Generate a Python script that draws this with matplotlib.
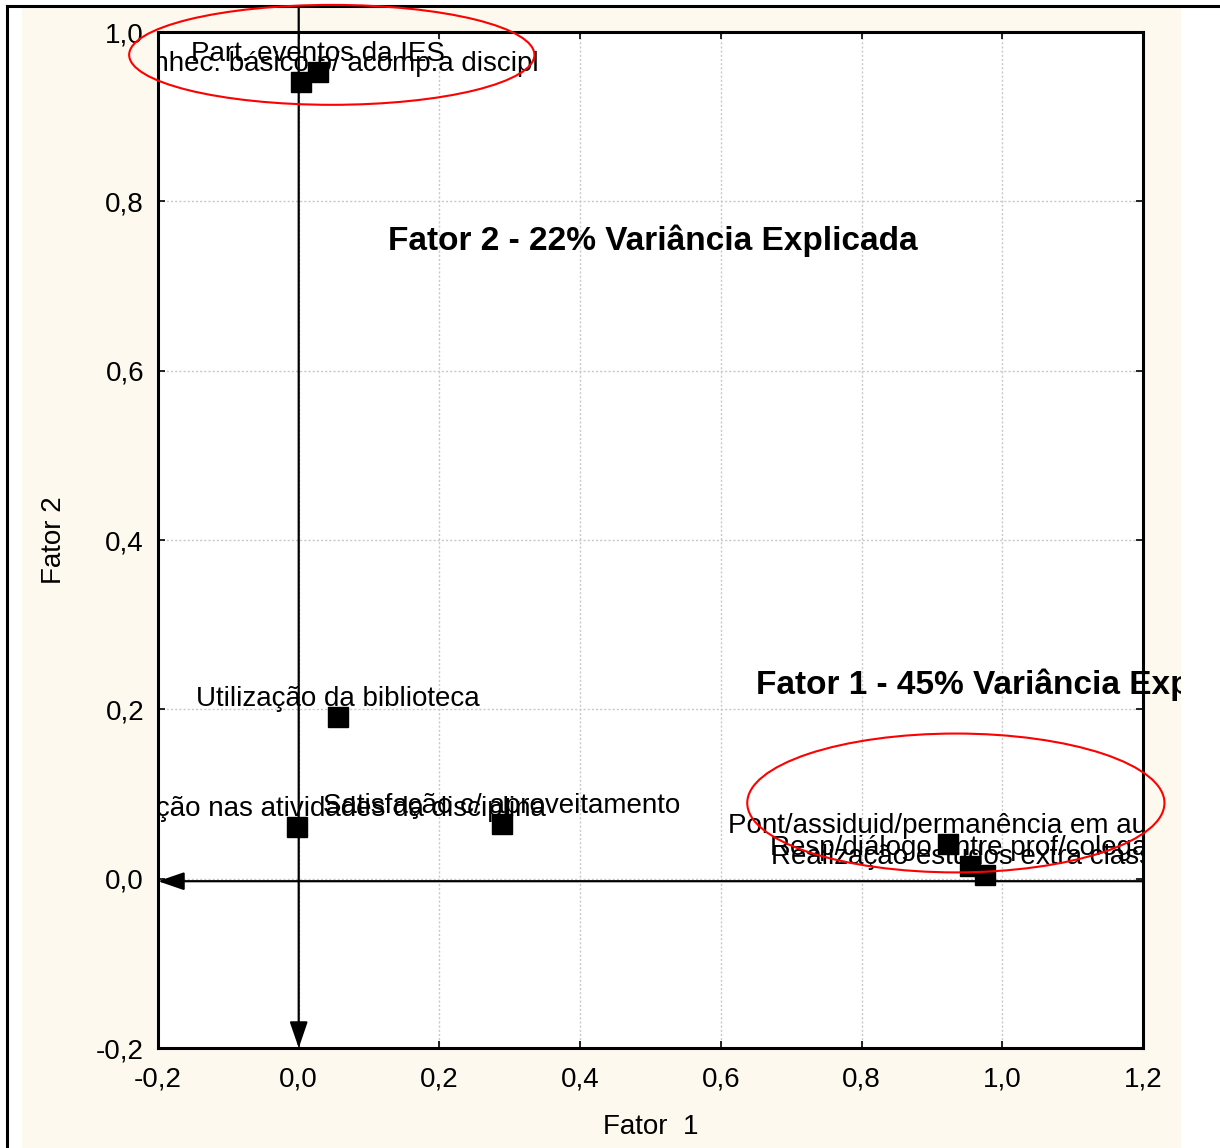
import matplotlib
matplotlib.use("Agg")
import matplotlib.pyplot as plt
from matplotlib.patches import Rectangle, Ellipse
from matplotlib.ticker import FuncFormatter, MultipleLocator
from matplotlib.lines import Line2D

plt.rcParams['font.family'] = ['Liberation Sans', 'DejaVu Sans']

# cargas fatoriais (Fator 1, Fator 2)
fator1 = [0.028, 0.003, 0.056, -0.002, 0.289, 0.923, 0.954, 0.975]
fator2 = [0.953, 0.941, 0.191, 0.061, 0.065, 0.041, 0.015, 0.004]
rotulos = ["Part. eventos da IES",
           "Conhec. básico p/ acomp.a discipl",
           "Utilização da biblioteca",
           "Participação nas atividades da disciplina",
           "Satisfação c/ aproveitamento",
           "Pont/assiduid/permanência em aula",
           "Resp/diálogo entre prof/colegas",
           "Realização estudos extra classe"]
# deslocamento horizontal do rotulo (pontos)
desloc = [0, 20, 0, 0, 0, 0, -3, -11]

fig = plt.figure(figsize=(12.2, 11.48), dpi=100)
fig.patch.set_facecolor("white")

# fundo creme e moldura
fundo = Rectangle((22 / 1220, 0), (1181 - 22) / 1220, 1 - 8 / 1148,
                  transform=fig.transFigure, facecolor="#fef9ee",
                  edgecolor="none", zorder=-10)
fig.patches.append(fundo)
fig.lines.append(Line2D([7 / 1220, 1], [1 - 6 / 1148, 1 - 6 / 1148],
                        transform=fig.transFigure, color="black", lw=2.2, zorder=-5))
fig.lines.append(Line2D([7 / 1220, 7 / 1220], [0, 1 - 6 / 1148],
                        transform=fig.transFigure, color="black", lw=2.2, zorder=-5))

ax = fig.add_axes([158 / 1220, 1 - 1048 / 1148, (1143 - 158) / 1220, (1048 - 32) / 1148])
ax.set_facecolor("white")
ax.set_xlim(-0.2, 1.2)
ax.set_ylim(-0.2, 1.0)
ax.xaxis.set_major_locator(MultipleLocator(0.2))
ax.yaxis.set_major_locator(MultipleLocator(0.2))
fmt = FuncFormatter(lambda v, p: ("%.1f" % v).replace(".", ",").replace("-0,0", "0,0"))
ax.xaxis.set_major_formatter(fmt)
ax.yaxis.set_major_formatter(fmt)
ax.grid(True, color="#c8c8c8", linestyle=(0, (1.5, 1.5)), lw=1.0)
ax.set_axisbelow(True)
for s in ax.spines.values():
    s.set_linewidth(2.2)
ax.tick_params(direction="in", length=5, width=1.2, top=True, right=True,
               labelsize=20, colors="black")
ax.tick_params(axis="x", pad=13)
ax.tick_params(axis="y", pad=10)
ax.set_xlabel("Fator  1", fontsize=20, labelpad=16)
ax.set_ylabel("Fator 2", fontsize=20, labelpad=21)

# eixos com setas
seta = dict(arrowstyle="-|>,head_length=1.6,head_width=0.55",
            color="black", lw=1.6, shrinkA=0, shrinkB=0)
ax.annotate("", xy=(-0.2, -0.003), xytext=(1.2, -0.003),
            arrowprops=seta, annotation_clip=False, zorder=3)
ax.annotate("", xy=(0.0, -0.2), xytext=(0.0, 1.03),
            arrowprops=seta, annotation_clip=False, zorder=3)

ax.plot(fator1, fator2, linestyle="none", marker="s", markersize=14,
        color="black", zorder=5)
for x, y, r, d in zip(fator1, fator2, rotulos, desloc):
    ax.annotate(r, (x, y), xytext=(d, 8), textcoords="offset points",
                ha="center", va="baseline", fontsize=20, clip_on=True, zorder=6)

ax.text(0.503, 0.754, "Fator 2 - 22% Variância Explicada", fontsize=24,
        fontweight="bold", ha="center", va="center")
t1 = ax.text(0.650, 0.229, "Fator 1 - 45% Variância Explicada", fontsize=24,
             fontweight="bold", ha="left", va="center", clip_on=True)
t1.set_clip_path(fundo)

ax.add_patch(Ellipse((0.047, 0.973), 0.576, 0.118, fill=False, edgecolor="red",
                     lw=1.5, clip_on=False, zorder=7))
ax.add_patch(Ellipse((0.934, 0.0894), 0.593, 0.164, fill=False, edgecolor="red",
                     lw=1.5, clip_on=False, zorder=7))

fig.savefig("out.png", dpi=100, facecolor=fig.get_facecolor())
